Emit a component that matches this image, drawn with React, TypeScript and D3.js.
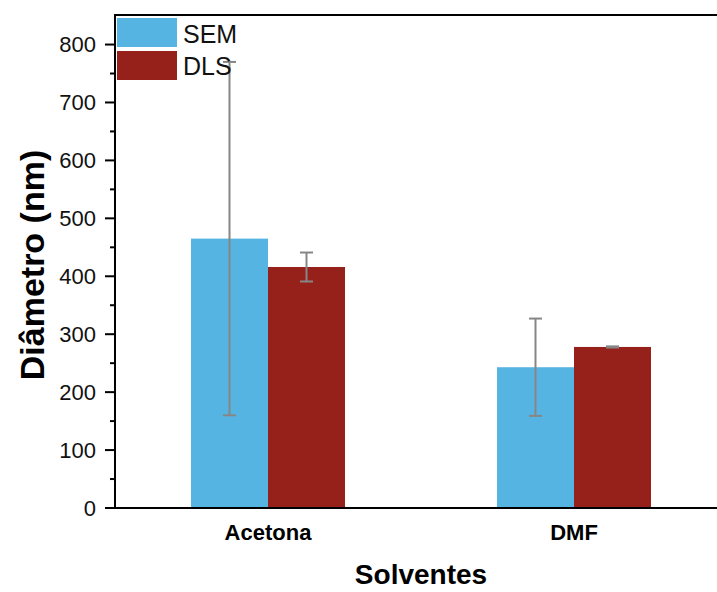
import React from "react";
import * as d3 from "d3";

const categories = ["Acetona", "DMF"];
const seriesNames = ["SEM", "DLS"];
const semValues = [465, 243];
const semErrors = [305, 84];
const dlsValues = [416, 278];
const dlsErrors = [25, 1];
const yTicks = [0, 100, 200, 300, 400, 500, 600, 700, 800];
const yMinorTicks = [50, 150, 250, 350, 450, 550, 650, 750];
const colors = ["#56B4E2", "#96211B"];

const W = 717;
const H = 592;
const left = 115;
const top = 15;
const bottom = 508;
const right = 727;

export default function App() {
  const y = d3.scaleLinear().domain([0, 851]).range([bottom, top]);
  const x0 = d3.scalePoint<string>().domain(categories).range([left, right]).padding(0.5);
  const x1 = d3.scaleBand<string>().domain(seriesNames).range([-77, 77]);
  const values = [semValues, dlsValues];
  const errors = [semErrors, dlsErrors];
  const narrow = "'Liberation Sans Narrow', 'Liberation Sans', Arial, sans-serif";
  const sans = "'Liberation Sans', Arial, sans-serif";

  return (
    <svg width={W} height={H} style={{ position: "absolute", left: 0, top: 0 }}>
      <rect width={W} height={H} fill="#fff" />
      {categories.map((c, ci) =>
        seriesNames.map((s, si) => {
          const xb = (x0(c) as number) + (x1(s) as number);
          const v = values[si][ci];
          return (
            <rect key={c + s} x={xb} y={y(v)} width={x1.bandwidth()} height={bottom - y(v)} fill={colors[si]} />
          );
        })
      )}
      {categories.map((c, ci) =>
        seriesNames.map((s, si) => {
          const cx = (x0(c) as number) + (x1(s) as number) + x1.bandwidth() / 2;
          const v = values[si][ci];
          const e = errors[si][ci];
          const y1 = y(v + e);
          const y2 = y(v - e);
          return (
            <g key={"e" + c + s} stroke="#868686" strokeWidth={2}>
              <line x1={cx} x2={cx} y1={y1} y2={y2} />
              <line x1={cx - 6.5} x2={cx + 6.5} y1={y1} y2={y1} />
              <line x1={cx - 6.5} x2={cx + 6.5} y1={y2} y2={y2} />
            </g>
          );
        })
      )}
      {/* axes */}
      <line x1={left} x2={left} y1={top} y2={bottom + 1} stroke="#000" strokeWidth={2} />
      <line x1={left - 10} x2={W} y1={bottom} y2={bottom} stroke="#000" strokeWidth={2} />
      <line x1={left - 1} x2={W} y1={top} y2={top} stroke="#000" strokeWidth={2} />
      {yTicks.map((t) => (
        <g key={"t" + t}>
          <line x1={left - 10} x2={left} y1={y(t)} y2={y(t)} stroke="#000" strokeWidth={2} />
          <text x={96} y={y(t) + 7.5} textAnchor="end" fontFamily={narrow} fontSize={22} fill="#111">
            {t}
          </text>
        </g>
      ))}
      {yMinorTicks.map((t) => (
        <line key={"m" + t} x1={left - 5} x2={left} y1={y(t)} y2={y(t)} stroke="#000" strokeWidth={2} />
      ))}
      {categories.map((c) => (
        <text key={"c" + c} x={x0(c) as number} y={540} textAnchor="middle" fontFamily={sans} fontWeight="bold" fontSize={22} fill="#000">
          {c}
        </text>
      ))}
      <text x={421} y={584} textAnchor="middle" fontFamily={sans} fontWeight="bold" fontSize={28} fill="#000">
        Solventes
      </text>
      <text
        transform="translate(44,265) rotate(-90)"
        textAnchor="middle"
        fontFamily={sans}
        fontWeight="bold"
        fontSize={34}
        fill="#000"
      >
        Diâmetro (nm)
      </text>
      {/* legend */}
      {seriesNames.map((s, i) => (
        <g key={"l" + s}>
          <rect x={117} y={18 + i * 33} width={60} height={29} fill={colors[i]} />
          <text x={183} y={43 + i * 32} fontFamily={narrow} fontSize={25} fill="#111">
            {s}
          </text>
        </g>
      ))}
    </svg>
  );
}
